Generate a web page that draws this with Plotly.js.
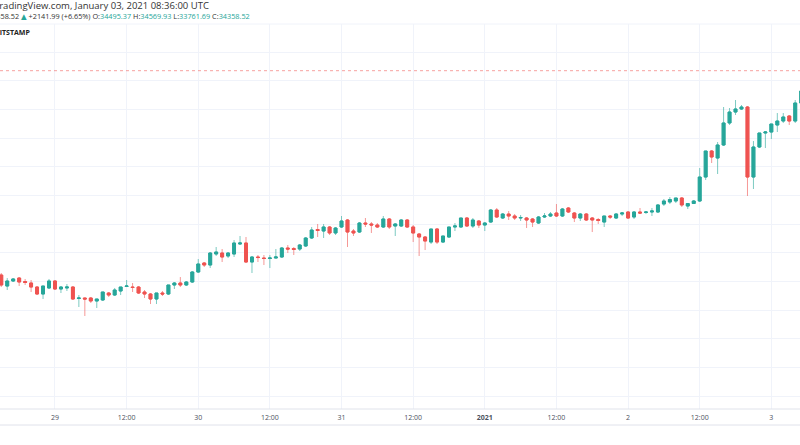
<!DOCTYPE html>
<html>
<head>
<meta charset="utf-8">
<script src="https://cdn.plot.ly/plotly-3.0.1.min.js"></script>
<style>
	html, body { margin: 0; padding: 0; background: #ffffff; }
	#chart { width: 800px; height: 445px; }
</style>
</head>
<body>
<div id="chart"></div>
<script>
"use strict";

/**
 * BTCUSD 1h candles, BITSTAMP, Dec 28 2020 15:00 -> Jan 03 2021 05:00 (UTC)
 */

var firstCandle = "2020-12-28T15:00:00";

var open = [
	27230, 26846, 27021, 27125, 27003, 26951, 26811, 26567, 26777,
	27021, 26742, 26777, 26811, 26410, 26428, 26428, 26323, 26358, 26602, 26532, 26672,
	26829, 26811, 26811, 26637, 26567, 26393, 26602, 26567, 26881, 26951, 26881, 26986,
	27335, 27649, 27579, 27963, 27997, 27893, 27963, 28312, 28346, 27684, 27858, 27823,
	27806, 27823, 27858, 28172, 28154, 28137, 28242, 28521, 28818, 28765, 28905, 28696,
	28905, 29149, 28765, 28730, 29044, 29010, 28975, 28905, 29184, 28940, 28940, 29149,
	28905, 28661, 28556, 28381, 28835, 28381, 28556, 28905, 28905, 29219, 28940, 29114,
	28975, 29079, 29498, 29219, 29358, 29289, 29219, 29219, 29184, 29044, 29254, 29289,
	29393, 29289, 29568, 29393, 29219, 29358, 29219, 29167, 29079, 29289, 29219, 29358,
	29428, 29254, 29428, 29411, 29428, 29428, 29707, 29777, 29812, 29917, 29638, 29725,
	29812, 30649, 31557, 31312, 31766, 32534, 32917, 33022, 33092, 30649, 31696, 32185,
	32219, 32464, 32603, 32778, 32603, 33231
];
var high = [
	27300, 27125, 27125, 27160, 27091, 27056, 26846, 26846, 27091,
	27056, 26846, 26916, 26846, 26532, 26440, 26463, 26393, 26637, 26637, 26777, 26811,
	27056, 26951, 26846, 26707, 26602, 26602, 26672, 26881, 26986, 27160, 27021, 27370,
	27788, 27684, 28032, 28207, 28137, 28032, 28451, 28591, 28556, 27893, 27928, 27928,
	27928, 28137, 28207, 28277, 28207, 28312, 28556, 28905, 29010, 29010, 28940, 28905,
	29289, 29184, 28835, 29079, 29219, 29079, 29044, 29289, 29219, 29044, 29184, 29184,
	28975, 28696, 28591, 28835, 28870, 28591, 28905, 29044, 29219, 29254, 29219, 29149,
	29079, 29533, 29568, 29393, 29463, 29358, 29324, 29254, 29219, 29289, 29393, 29428,
	29707, 29568, 29603, 29428, 29393, 29393, 29254, 29219, 29289, 29324, 29393, 29428,
	29463, 29463, 29568, 29463, 29568, 29707, 29882, 29952, 29917, 29952, 29742, 29847,
	30963, 31557, 31591, 31871, 33092, 33057, 33336, 33162, 33127, 31905, 32185, 32254,
	32499, 32882, 32882, 32813, 33336, 33824
];
var low = [
	26811, 26707, 26986, 26846, 26881, 26637, 26532, 26393, 26742,
	26707, 26602, 26672, 26358, 26114, 25800, 26253, 26079, 26323, 26463, 26498, 26532,
	26811, 26637, 26567, 26428, 26218, 26218, 26498, 26532, 26742, 26811, 26846, 26951,
	27300, 27509, 27474, 27893, 27684, 27823, 27858, 28277, 27649, 27300, 27684, 27579,
	27474, 27806, 27823, 27997, 27928, 28067, 28207, 28486, 28556, 28521, 28626, 28626,
	28870, 28207, 28591, 28696, 28905, 28696, 28870, 28870, 28835, 28591, 28905, 28870,
	28381, 27893, 28102, 28312, 28312, 28346, 28521, 28765, 28870, 28905, 28870, 28870,
	28765, 29044, 29219, 29184, 29149, 29149, 29114, 28870, 28905, 29010, 29219, 29254,
	29254, 29254, 29393, 29079, 29114, 29114, 28730, 29010, 28905, 29184, 29184, 29289,
	29184, 29184, 29358, 29358, 29289, 29393, 29638, 29707, 29742, 29603, 29533, 29707,
	29777, 30545, 31138, 30754, 31731, 32464, 32813, 32987, 29987, 30231, 31661, 31661,
	31975, 32219, 32534, 32464, 32534, 33162
];
var close = [
	26881, 27021, 27091, 26986, 26969, 26811, 26567, 26846, 27021,
	26742, 26811, 26811, 26393, 26428, 26393, 26323, 26393, 26637, 26532, 26707, 26811,
	26846, 26794, 26602, 26567, 26393, 26602, 26567, 26881, 26951, 26881, 26986, 27335,
	27614, 27579, 27997, 28032, 27858, 27997, 28346, 28346, 27684, 27858, 27840, 27806,
	27823, 27858, 28172, 28137, 28120, 28277, 28521, 28800, 28783, 28905, 28696, 28870,
	29114, 28730, 28696, 29044, 29010, 28975, 28905, 29184, 28905, 29010, 29149, 28905,
	28696, 28556, 28416, 28835, 28381, 28591, 28905, 28940, 29219, 28940, 29149, 28975,
	29044, 29498, 29254, 29358, 29289, 29219, 29237, 29149, 29079, 29254, 29289, 29358,
	29289, 29533, 29428, 29219, 29358, 29149, 29149, 29132, 29289, 29254, 29358, 29393,
	29219, 29428, 29393, 29428, 29463, 29673, 29812, 29865, 29917, 29673, 29725, 29812,
	30649, 31557, 31347, 31766, 32534, 32917, 33022, 33092, 30649, 31696, 32185, 32219,
	32499, 32603, 32743, 32603, 33231, 33650
];

var lastClose = 34358.52;
var tickDates = [
	"2020-12-29", "2020-12-29 12:00", "2020-12-30", "2020-12-30 12:00",
	"2020-12-31", "2020-12-31 12:00", "2021-01-01", "2021-01-01 12:00",
	"2021-01-02", "2021-01-02 12:00", "2021-01-03"
];
var tickText = ["29", "12:00", "30", "12:00", "31", "12:00", "<b>2021</b>", "12:00", "2", "12:00", "3"];
var viewRange = ["2020-12-28 14:47:24", "2021-01-03 04:48:00"];
var priceRange = [22555, 35988];

var upColor = "#26a69a",
	downColor = "#ef5350",
	gridColor = "#f0f3fa",
	textColor = "#4c525e";

function pad(n) {
	return (n < 10 ? "0" : "") + n;
} //pad

function hours() {
	let base = new Date(firstCandle + "Z").getTime(), out = [ ];
	for (let i = 0; i < open.length; i++) {
		let d = new Date(base + i * 3600e3);
		out.push(d.getUTCFullYear() + "-" + pad(d.getUTCMonth() + 1) + "-" + pad(d.getUTCDate()) + " " + pad(d.getUTCHours()) + ":00");
	}
	return out;
} //hours

function draw() {
	let x = hours(),
		bodyHigh = open.map((o, i) => Math.max(o, close[i])),
		bodyLow = open.map((o, i) => Math.min(o, close[i])),
		wicks = {
			type: "candlestick",
			x: x, open: open, high: high, low: low, close: close,
			increasing: { line: { color: "rgba(38,166,154,0.6)", width: 1 }, fillcolor: "rgba(0,0,0,0)" },
			decreasing: { line: { color: "rgba(239,83,80,0.6)", width: 1 }, fillcolor: "rgba(0,0,0,0)" },
			hoverinfo: "skip",
			showlegend: false
		},
		bodies = {
			type: "candlestick",
			x: x, open: open, high: bodyHigh, low: bodyLow, close: close,
			increasing: { line: { color: upColor, width: 1 }, fillcolor: upColor },
			decreasing: { line: { color: downColor, width: 1 }, fillcolor: downColor },
			hoverinfo: "skip",
			showlegend: false
		},
		header2 = "34358.52 <span style='color:" + upColor + "'>▲</span> +2141.99 (+6.65%) " +
			"O:<span style='color:" + upColor + "'>34495.37</span> " +
			"H:<span style='color:" + upColor + "'>34569.93</span> " +
			"L:<span style='color:" + upColor + "'>33761.69</span> " +
			"C:<span style='color:" + upColor + "'>34358.52</span>",
		layout = {
			width: 800,
			height: 445,
			margin: { l: 0, r: 0, t: 24, b: 36, pad: 0 },
			paper_bgcolor: "#ffffff",
			plot_bgcolor: "#ffffff",
			font: { family: "'Open Sans', 'DejaVu Sans', sans-serif", color: textColor, size: 7 },
			showlegend: false,
			boxgap: 0.3,
			xaxis: {
				type: "date",
				range: viewRange,
				rangeslider: { visible: false },
				tickmode: "array",
				tickvals: tickDates,
				ticktext: tickText,
				showgrid: true,
				gridcolor: gridColor,
				gridwidth: 1,
				zeroline: false,
				showline: false,
				ticks: "",
				tickfont: { size: 7, color: textColor },
				ticklabelstandoff: 3,
				fixedrange: true
			},
			yaxis: {
				range: priceRange,
				tick0: 0,
				dtick: 1000,
				showgrid: true,
				gridcolor: gridColor,
				gridwidth: 1,
				zeroline: false,
				showline: false,
				showticklabels: false,
				ticks: "",
				fixedrange: true
			},
			shapes: [
				{ type: "line", xref: "paper", yref: "y", x0: 0, x1: 1, y0: lastClose, y1: lastClose,
					line: { color: "rgba(239,83,80,0.55)", width: 1, dash: "dot" } },
				{ type: "line", xref: "paper", yref: "paper", x0: 0, x1: 1, y0: 0, y1: 0,
					line: { color: "#e0e3eb", width: 1 } },
				{ type: "line", xref: "paper", yref: "paper", x0: 0, x1: 1, y0: -0.0416, y1: -0.0416,
					line: { color: "#e0e3eb", width: 1 } },
				{ type: "line", xref: "paper", yref: "paper", x0: 0, x1: 1, y0: 1, y1: 1,
					line: { color: gridColor, width: 1 } }
			],
			annotations: [
				{ xref: "paper", yref: "paper", x: -0.01, y: 1.0468, xanchor: "left", yanchor: "middle",
					text: "TradingView.com, January 03, 2021 08:36:00 UTC", showarrow: false,
					font: { size: 9.5, color: "#333333" } },
				{ xref: "paper", yref: "paper", x: -0.018, y: 1.0216, xanchor: "left", yanchor: "middle",
					text: header2, showarrow: false,
					font: { size: 7.3, color: "#333333" } },
				{ xref: "paper", yref: "paper", x: -0.0085, y: 0.9774, xanchor: "left", yanchor: "middle",
					text: "<b>BITSTAMP</b>", showarrow: false,
					font: { size: 7, color: "#222222" } }
			]
		};

	return Plotly.newPlot("chart", [wicks, bodies], layout, { staticPlot: true, displayModeBar: false });
} //draw

window.addEventListener("DOMContentLoaded", draw);
</script>
</body>
</html>
